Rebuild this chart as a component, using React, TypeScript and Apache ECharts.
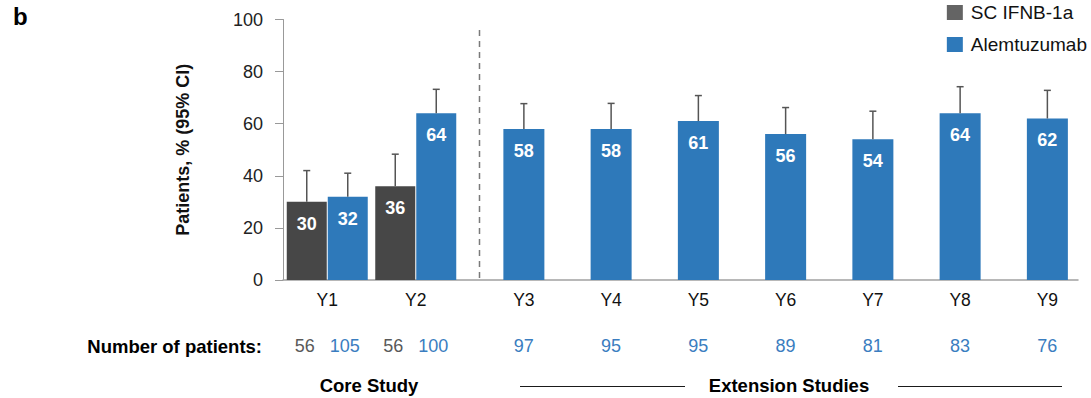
import React, { useEffect, useRef } from 'react';
import * as echarts from 'echarts';

// Study years
const coreYears = ['Y1', 'Y2'];
const extensionYears = ['Y3', 'Y4', 'Y5', 'Y6', 'Y7', 'Y8', 'Y9'];

// Patients, % with upper 95% CI bound
const ifnbCore = [30, 36];
const ifnbCoreUpper = [42, 48.3];
const alemCore = [32, 64];
const alemCoreUpper = [41, 73.2];
const alemExtension = [58, 58, 61, 56, 54, 64, 62];
const alemExtensionUpper = [67.7, 67.8, 70.8, 66.2, 64.8, 74.2, 72.8];

// Number of patients per year
const ifnbPatients = [56, 56];
const alemCorePatients = [105, 100];
const alemExtensionPatients = [97, 95, 95, 89, 81, 83, 76];

const yTicks = { min: 0, max: 100, interval: 20 };

// Layout
const FONT = 'Arial, "Liberation Sans", Helvetica, sans-serif';
const W = 1091;
const H = 398;
const PLOT_TOP = 19.5;
const PLOT_BOTTOM = 280;
const AXIS_LEFT = 283;
const AXIS_RIGHT = 1078;
const BAND = 88.5;
const EXT_LEFT = 480.25;
const PAIR_BAR = 40;
const SINGLE_BAR = 41;
const PAIR_SHIFT = (PAIR_BAR + 1) / 2;

const GREY_BAR = '#474747';
const GREY_KEY = '#646464';
const BLUE = '#2e79ba';
const BLUE_TEXT = '#3a7dc0';
const GREY_TEXT = '#595959';

const barLabel = {
  show: true,
  position: 'insideTop',
  distance: 13,
  color: '#ffffff',
  fontWeight: 'bold',
  fontSize: 18,
  fontFamily: FONT,
};

function whiskers(axisIndex: number, means: number[], uppers: number[], shift: number) {
  return {
    type: 'custom',
    xAxisIndex: axisIndex,
    yAxisIndex: axisIndex,
    silent: true,
    z: 3,
    encode: { x: 0, y: [1, 2] },
    data: means.map((m, i) => [i, m, uppers[i]]),
    renderItem: (_params: any, api: any) => {
      const base = api.coord([api.value(0), api.value(1)]);
      const top = api.coord([api.value(0), api.value(2)]);
      const x = base[0] + shift;
      const style = { stroke: '#555555', lineWidth: 1.5 };
      return {
        type: 'group',
        children: [
          { type: 'line', shape: { x1: x, y1: base[1], x2: x, y2: top[1] }, style },
          { type: 'line', shape: { x1: x - 3.5, y1: top[1], x2: x + 3.5, y2: top[1] }, style },
        ],
      };
    },
  };
}

const yearRich = {
  yr: { fontSize: 17.5, color: '#111111', lineHeight: 24, fontFamily: FONT },
  g: { fontSize: 18, color: GREY_TEXT, lineHeight: 68, fontFamily: FONT },
  sp: { width: 15, lineHeight: 68 },
  b: { fontSize: 18, color: BLUE_TEXT, lineHeight: 68, fontFamily: FONT },
};

function buildOption() {
  const gridBox = { top: PLOT_TOP, height: PLOT_BOTTOM - PLOT_TOP };
  return {
    animation: false,
    textStyle: { fontFamily: FONT },
    legend: {
      orient: 'vertical',
      right: 4,
      top: 3,
      padding: 0,
      itemWidth: 16,
      itemHeight: 15,
      itemGap: 13,
      icon: 'rect',
      textStyle: { fontSize: 19, color: '#111111', fontFamily: FONT, padding: [0, 0, 0, 3] },
      data: [
        { name: 'SC IFNB-1a', itemStyle: { color: GREY_KEY } },
        { name: 'Alemtuzumab', itemStyle: { color: BLUE } },
      ],
    },
    grid: [
      { left: AXIS_LEFT, width: AXIS_RIGHT - AXIS_LEFT, ...gridBox },
      { left: AXIS_LEFT, width: BAND * coreYears.length, ...gridBox },
      { left: EXT_LEFT, width: BAND * extensionYears.length, ...gridBox },
    ],
    xAxis: [
      {
        gridIndex: 0,
        type: 'value',
        min: 0,
        max: 1,
        axisLine: { show: true, lineStyle: { color: '#a0a0a0', width: 1.5 } },
        axisTick: { show: false },
        axisLabel: { show: false },
        splitLine: { show: false },
      },
      {
        gridIndex: 1,
        type: 'category',
        data: coreYears,
        axisLine: { show: false },
        axisTick: { show: false },
        axisLabel: {
          margin: 8,
          interval: 0,
          formatter: (v: string, i: number) =>
            `{yr|${v}}\n{g|${ifnbPatients[i]}}{sp|}{b|${alemCorePatients[i]}}`,
          rich: yearRich,
        },
      },
      {
        gridIndex: 2,
        type: 'category',
        data: extensionYears,
        axisLine: { show: false },
        axisTick: { show: false },
        axisLabel: {
          margin: 8,
          interval: 0,
          formatter: (v: string, i: number) => `{yr|${v}}\n{b|${alemExtensionPatients[i]}}`,
          rich: yearRich,
        },
      },
    ],
    yAxis: [
      {
        gridIndex: 0,
        type: 'value',
        ...yTicks,
        name: 'Patients, % (95% CI)',
        nameLocation: 'middle',
        nameRotate: 90,
        nameGap: 91,
        nameTextStyle: { fontSize: 18, fontWeight: 'bold', color: '#111111', fontFamily: FONT },
        axisLine: { show: true, lineStyle: { color: '#999999', width: 1 } },
        axisTick: { show: true, length: 8, lineStyle: { color: '#999999' } },
        axisLabel: { fontSize: 18, color: '#222222', margin: 20, fontFamily: FONT },
        splitLine: { show: false },
      },
      { gridIndex: 1, type: 'value', ...yTicks, show: false },
      { gridIndex: 2, type: 'value', ...yTicks, show: false },
    ],
    series: [
      {
        name: 'SC IFNB-1a',
        type: 'bar',
        xAxisIndex: 1,
        yAxisIndex: 1,
        barWidth: PAIR_BAR,
        barGap: '2.5%',
        itemStyle: { color: GREY_BAR },
        label: barLabel,
        data: ifnbCore,
      },
      {
        name: 'Alemtuzumab',
        type: 'bar',
        xAxisIndex: 1,
        yAxisIndex: 1,
        barWidth: PAIR_BAR,
        barGap: '2.5%',
        itemStyle: { color: BLUE },
        label: barLabel,
        data: alemCore,
      },
      {
        name: 'Alemtuzumab',
        type: 'bar',
        xAxisIndex: 2,
        yAxisIndex: 2,
        barWidth: SINGLE_BAR,
        itemStyle: { color: BLUE },
        label: barLabel,
        data: alemExtension,
      },
      whiskers(1, ifnbCore, ifnbCoreUpper, -PAIR_SHIFT),
      whiskers(1, alemCore, alemCoreUpper, PAIR_SHIFT),
      whiskers(2, alemExtension, alemExtensionUpper, 0),
    ],
    graphic: [
      {
        type: 'text',
        left: 13,
        top: 4,
        style: { text: 'b', font: `bold 24px ${FONT}`, fill: '#000000' },
      },
      // Core / extension divider
      {
        type: 'line',
        shape: { x1: EXT_LEFT - 0.75, y1: 30, x2: EXT_LEFT - 0.75, y2: PLOT_BOTTOM },
        style: { stroke: '#7a7a7a', lineWidth: 1.5, lineDash: [6, 5] },
      },
      {
        type: 'text',
        x: 262,
        y: 346,
        style: {
          text: 'Number of patients:',
          font: `bold 18.5px ${FONT}`,
          fill: '#000000',
          align: 'right',
          verticalAlign: 'middle',
        },
      },
      {
        type: 'text',
        x: 369,
        y: 385,
        style: {
          text: 'Core Study',
          font: `bold 18.5px ${FONT}`,
          fill: '#000000',
          align: 'center',
          verticalAlign: 'middle',
        },
      },
      {
        type: 'text',
        x: 789,
        y: 385,
        style: {
          text: 'Extension Studies',
          font: `bold 18.5px ${FONT}`,
          fill: '#000000',
          align: 'center',
          verticalAlign: 'middle',
        },
      },
      {
        type: 'line',
        shape: { x1: 520, y1: 386.5, x2: 685, y2: 386.5 },
        style: { stroke: '#1a1a1a', lineWidth: 1 },
      },
      {
        type: 'line',
        shape: { x1: 898, y1: 386.5, x2: 1062, y2: 386.5 },
        style: { stroke: '#1a1a1a', lineWidth: 1 },
      },
    ],
  };
}

export default function App() {
  const ref = useRef<HTMLDivElement>(null);
  useEffect(() => {
    if (!ref.current) return;
    const chart = echarts.init(ref.current, undefined, { renderer: 'svg' });
    chart.setOption(buildOption() as any);
    return () => chart.dispose();
  }, []);
  return (
    <div
      ref={ref}
      style={{ position: 'fixed', left: 0, top: 0, width: W, height: H, background: '#ffffff' }}
    />
  );
}
